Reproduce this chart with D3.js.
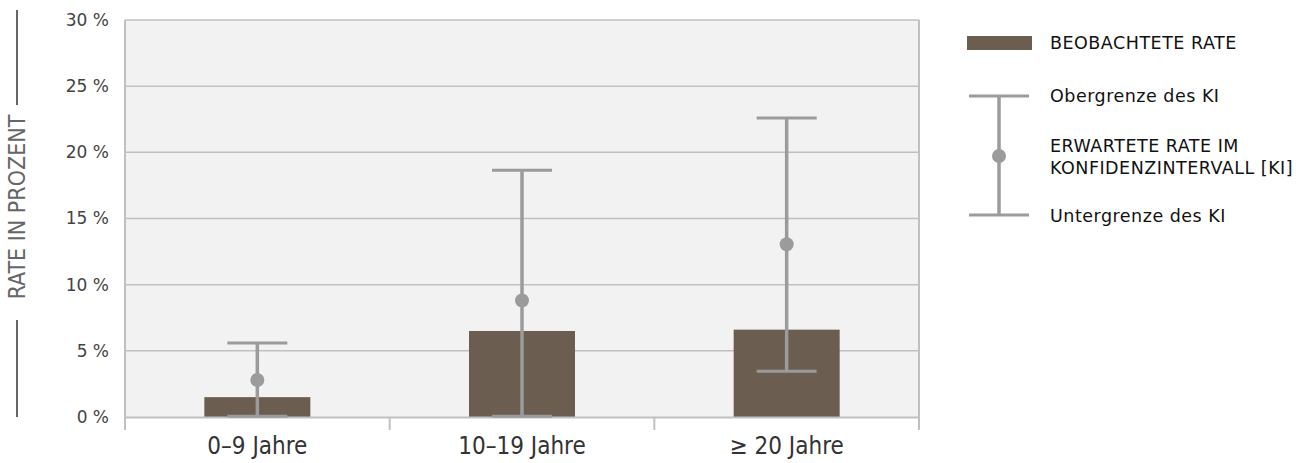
<!DOCTYPE html>
<html><head><meta charset="utf-8">
<script src="https://cdn.jsdelivr.net/npm/d3@7"></script>
<style>
html,body{margin:0;padding:0;background:#fff;}
svg{display:block;}
</style></head>
<body>
<script>
const categories = ["0–9 Jahre", "10–19 Jahre", "\u2265 20 Jahre"];
const observed = [1.5, 6.5, 6.6];
const expected = [2.8, 8.8, 13.05];
const ciLower = [0.05, 0.05, 3.45];
const ciUpper = [5.6, 18.65, 22.6];
const yTicks = [0, 5, 10, 15, 20, 25, 30];
const legendLabels = ["BEOBACHTETE RATE", "Obergrenze des KI", ["ERWARTETE RATE IM", "KONFIDENZINTERVALL [KI]"], "Untergrenze des KI"];
const yTitle = "RATE IN PROZENT";

const W = 1311, H = 463;
const m = {left:125, right:919, top:20, bottom:417};
const svg = d3.select("body").append("svg").attr("width", W).attr("height", H);

const x = d3.scaleBand().domain(categories).range([m.left, m.right]).paddingInner(0).paddingOuter(0);
const y = d3.scaleLinear().domain([0, 30]).range([m.bottom, m.top]);

const grid = "#c0c0c0", barCol = "#6b5d50", ebCol = "#9b9b9b";
const mainFont = "'DejaVu Sans', sans-serif";
const condFont = "'DejaVu Sans Condensed', 'Liberation Sans Narrow', sans-serif";

// plot background
svg.append("rect").attr("x", m.left).attr("y", m.top).attr("width", m.right - m.left).attr("height", m.bottom - m.top).attr("fill", "#f2f2f2");

// gridlines
svg.append("g").selectAll("line").data(yTicks.filter(d => d > 0)).join("line")
  .attr("x1", m.left).attr("x2", m.right).attr("y1", d => y(d)).attr("y2", d => y(d))
  .attr("stroke", grid).attr("stroke-width", 1.5);
// right border
svg.append("line").attr("x1", m.right).attr("x2", m.right).attr("y1", m.top).attr("y2", m.bottom).attr("stroke", grid).attr("stroke-width", 2);

// y axis
const yAxis = svg.append("g").attr("transform", `translate(${m.left},0)`)
  .call(d3.axisLeft(y).tickValues(yTicks).tickSize(0).tickPadding(16).tickFormat(d => d + " %"));
yAxis.select(".domain").attr("stroke", grid).attr("stroke-width", 2).attr("d", `M0,${m.top}V${m.bottom + 12}`);
yAxis.selectAll("text").attr("font-family", mainFont).attr("font-size", 17).attr("fill", "#444");

// bars
svg.append("g").selectAll("rect").data(categories).join("rect")
  .attr("x", d => x(d) + x.bandwidth() / 2 - 53)
  .attr("width", 106)
  .attr("y", (d, i) => y(observed[i]))
  .attr("height", (d, i) => y(0) - y(observed[i]))
  .attr("fill", barCol);

// x axis
const xAxis = svg.append("g").attr("transform", `translate(0,${m.bottom})`)
  .call(d3.axisBottom(x).tickSize(0).tickPadding(20));
xAxis.select(".domain").attr("stroke", grid).attr("stroke-width", 2);
xAxis.selectAll("text").attr("font-family", condFont).attr("font-size", 24).attr("fill", "#333");
const bounds = [m.left, ...categories.map(c => x(c) + x.bandwidth())];
svg.append("g").selectAll("line").data(bounds).join("line")
  .attr("x1", d => d).attr("x2", d => d).attr("y1", m.bottom).attr("y2", m.bottom + 13)
  .attr("stroke", grid).attr("stroke-width", 2);

// error bars
const eb = svg.append("g").selectAll("g").data(categories).join("g")
  .attr("transform", d => `translate(${x(d) + x.bandwidth() / 2},0)`);
eb.append("line").attr("x1", 0).attr("x2", 0)
  .attr("y1", (d, i) => y(ciLower[i])).attr("y2", (d, i) => y(ciUpper[i]))
  .attr("stroke", ebCol).attr("stroke-width", 3.5);
eb.append("line").attr("x1", -30).attr("x2", 30)
  .attr("y1", (d, i) => y(ciUpper[i])).attr("y2", (d, i) => y(ciUpper[i]))
  .attr("stroke", ebCol).attr("stroke-width", 3);
eb.append("line").attr("x1", -30).attr("x2", 30)
  .attr("y1", (d, i) => y(ciLower[i])).attr("y2", (d, i) => y(ciLower[i]))
  .attr("stroke", ebCol).attr("stroke-width", 3);
eb.append("circle").attr("cx", 0).attr("cy", (d, i) => y(expected[i])).attr("r", 7).attr("fill", ebCol);

// y title with lines
const tx = 17;
svg.append("text").attr("transform", `translate(${tx + 8},207) rotate(-90)`)
  .attr("text-anchor", "middle").attr("font-family", condFont).attr("font-size", 23)
  .attr("fill", "#666").text(yTitle);
svg.append("line").attr("x1", tx).attr("x2", tx).attr("y1", 10).attr("y2", 105).attr("stroke", "#666").attr("stroke-width", 2);
svg.append("line").attr("x1", tx).attr("x2", tx).attr("y1", 320).attr("y2", 417).attr("stroke", "#666").attr("stroke-width", 2);

// legend
const lg = svg.append("g");
lg.append("rect").attr("x", 967).attr("y", 36).attr("width", 65).attr("height", 14).attr("fill", barCol);
const lx = 999;
lg.append("line").attr("x1", lx).attr("x2", lx).attr("y1", 96).attr("y2", 215).attr("stroke", ebCol).attr("stroke-width", 3.5);
lg.append("line").attr("x1", lx - 30).attr("x2", lx + 30).attr("y1", 96).attr("y2", 96).attr("stroke", ebCol).attr("stroke-width", 3);
lg.append("line").attr("x1", lx - 30).attr("x2", lx + 30).attr("y1", 215).attr("y2", 215).attr("stroke", ebCol).attr("stroke-width", 3);
lg.append("circle").attr("cx", lx).attr("cy", 156).attr("r", 7).attr("fill", ebCol);
const legY = [43, 96, [146, 168], 216];
legendLabels.forEach((l, i) => {
  const lines = Array.isArray(l) ? l : [l];
  const ys = Array.isArray(legY[i]) ? legY[i] : [legY[i]];
  lines.forEach((t, j) => {
    lg.append("text").attr("x", 1050).attr("y", ys[j]).attr("dy", "0.35em")
      .attr("font-family", mainFont).attr("font-size", 17.5).attr("letter-spacing", 0.5)
      .attr("fill", "#111").text(t);
  });
});
</script>
</body></html>
